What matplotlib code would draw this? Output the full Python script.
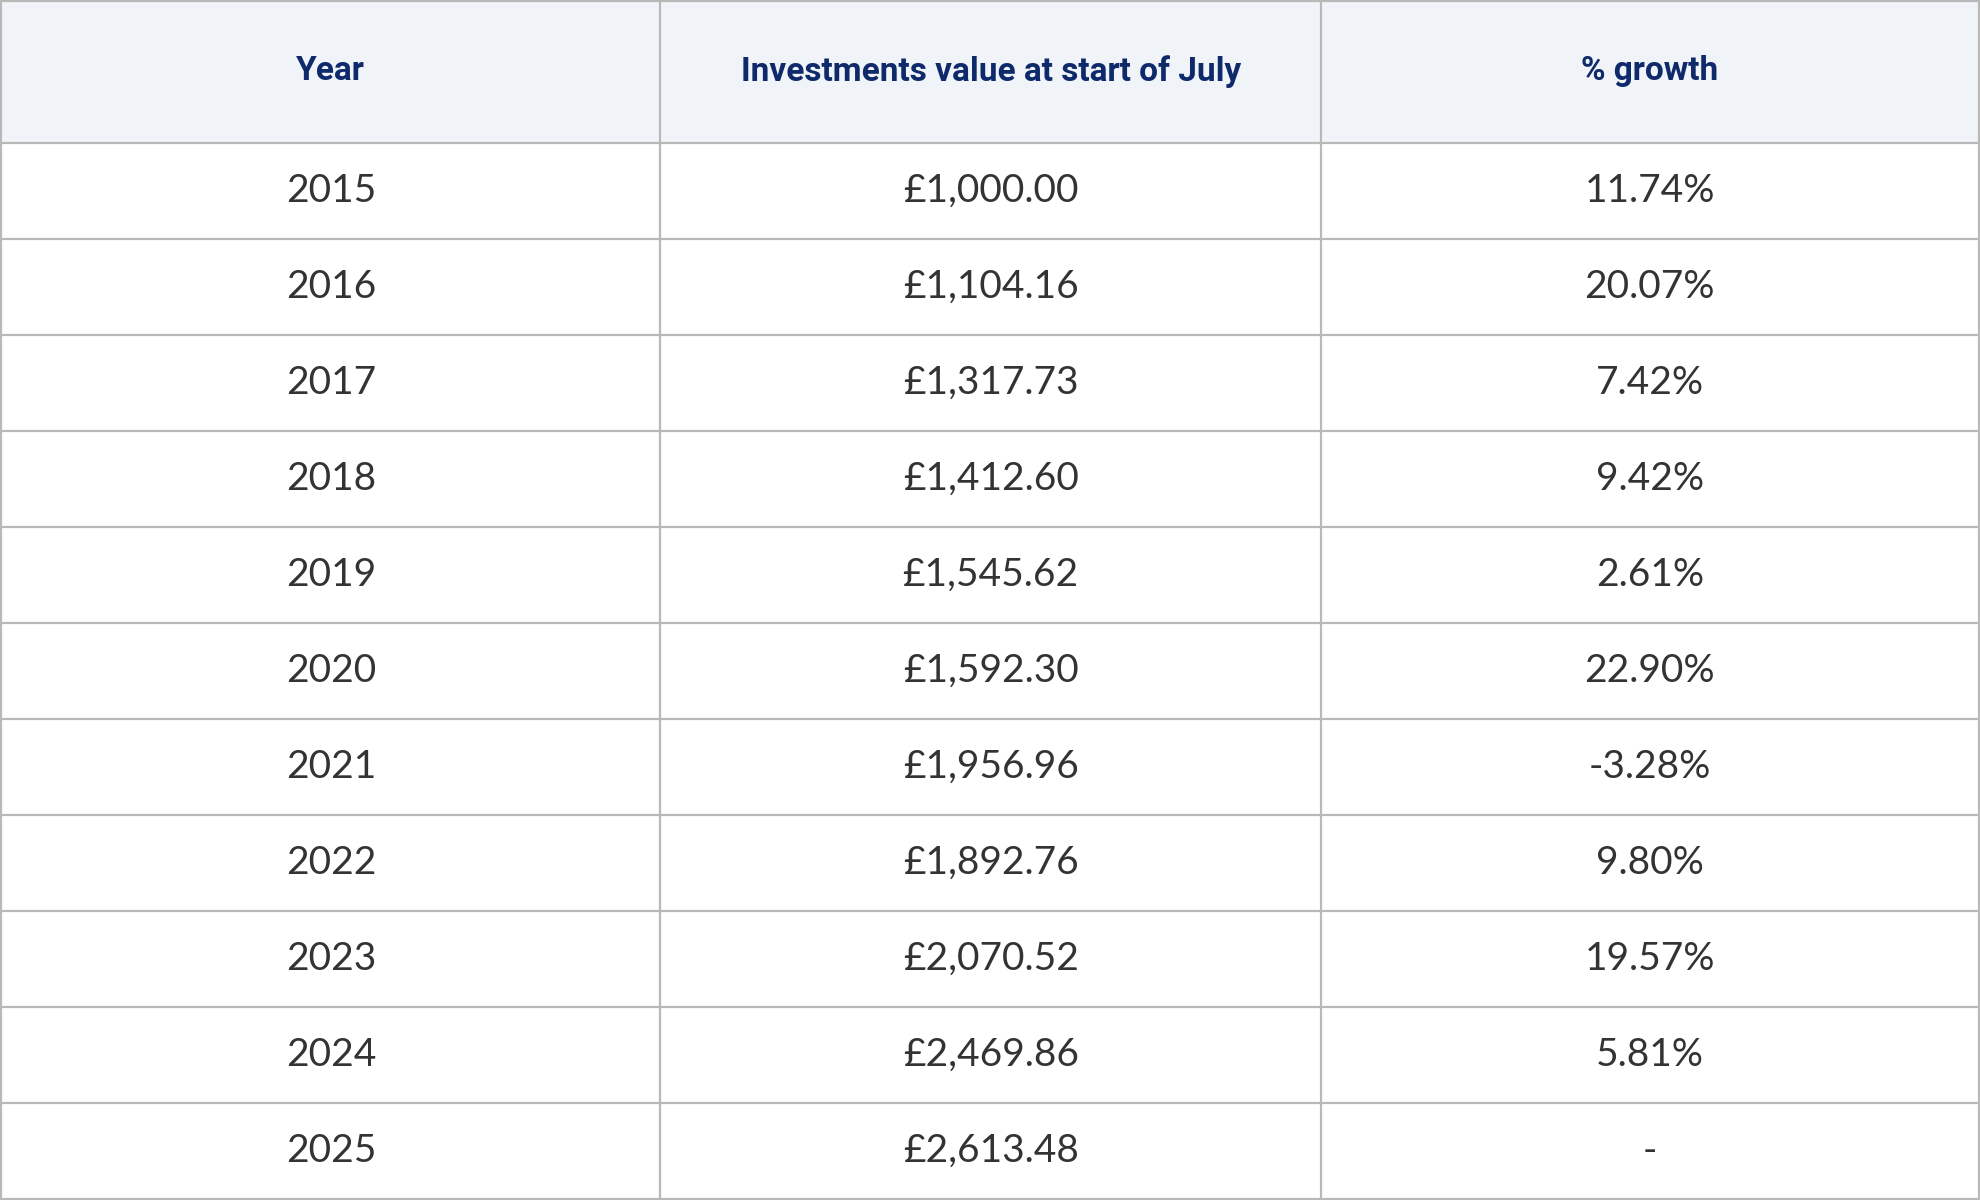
import matplotlib
matplotlib.use("Agg")
import matplotlib.pyplot as plt
from matplotlib.patches import Rectangle

headers = ["Year", "Investments value at start of July", "% growth"]
years = ["2015", "2016", "2017", "2018", "2019", "2020", "2021", "2022", "2023", "2024", "2025"]
values = ["£1,000.00", "£1,104.16", "£1,317.73", "£1,412.60", "£1,545.62", "£1,592.30",
          "£1,956.96", "£1,892.76", "£2,070.52", "£2,469.86", "£2,613.48"]
growth = ["11.74%", "20.07%", "7.42%", "9.42%", "2.61%", "22.90%", "-3.28%", "9.80%",
          "19.57%", "5.81%", "-"]

fig = plt.figure(figsize=(9.9, 6.0), dpi=200)
ax = fig.add_axes([0, 0, 1, 1])
W, H = 1568, 950
ax.set_xlim(0, W)
ax.set_ylim(H, 0)
ax.axis("off")

col_x = [1, 523, 1046, 1567]
head_h = 113
row_h = (H - 1 - head_h) / len(years)
line_c = "#b8b8b8"

ax.add_patch(Rectangle((col_x[0], 1), col_x[-1] - col_x[0], head_h - 1, facecolor="#f0f4f9", edgecolor="none"))
for i, h in enumerate(headers):
    cx = (col_x[i] + col_x[i + 1]) / 2
    ax.text(cx, head_h / 2, h, ha="center", va="center", fontsize=12, fontweight="bold",
            color="#0f2a6b", family="Roboto")

for r in range(len(years)):
    cy = head_h + row_h * (r + 0.5)
    for i, t in enumerate([years[r], values[r], growth[r]]):
        cx = (col_x[i] + col_x[i + 1]) / 2
        ax.text(cx, cy, t, ha="center", va="center", fontsize=14, color="#333333",
                family="Lato", fontweight="normal")

for x in col_x:
    ax.plot([x, x], [1, H - 1], color=line_c, lw=0.8)
ys = [1, head_h] + [head_h + row_h * (k + 1) for k in range(len(years))]
for y in ys:
    ax.plot([col_x[0], col_x[-1]], [y, y], color=line_c, lw=0.8)

fig.savefig("out.png", dpi=200, facecolor="white")
